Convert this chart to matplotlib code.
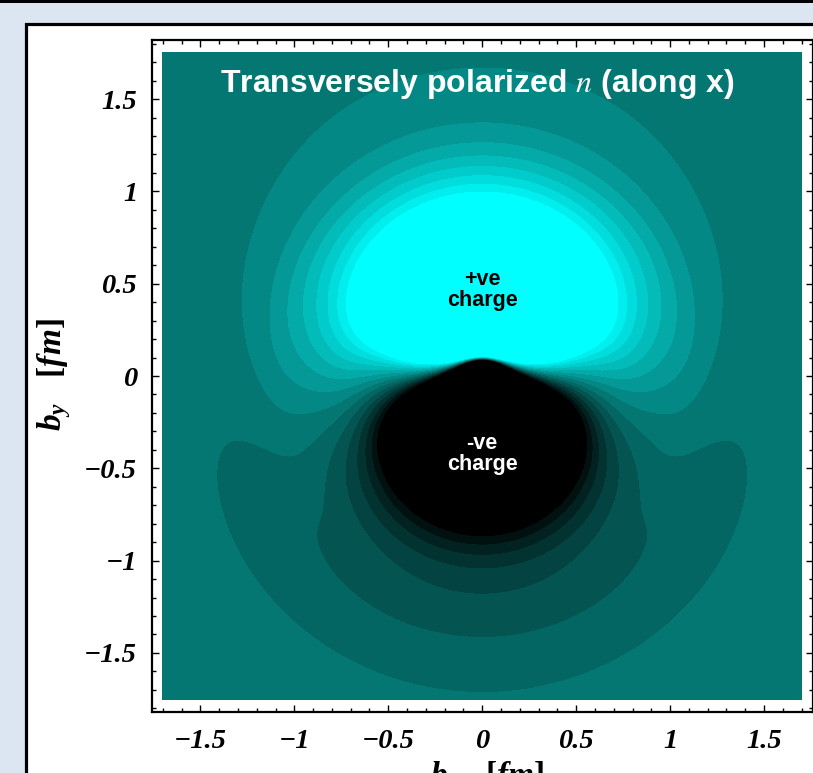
import numpy as np
import matplotlib.pyplot as plt
from matplotlib.patches import Rectangle

plt.rcParams['mathtext.fontset'] = 'custom'
plt.rcParams['mathtext.it'] = 'Liberation Serif:italic:bold'
plt.rcParams['mathtext.rm'] = 'Liberation Serif:bold'
plt.rcParams['mathtext.bf'] = 'Liberation Serif:bold'

# contour levels (density in units of one band) and band colours, black -> teal -> cyan
LEVELS = [-6.5, -5.5, -4.5, -3.5, -2.5, -1.5, -0.5,
          0.5, 1.5, 2.5, 3.5, 4.5, 5.5, 6.5, 7.5]
BAND_COLORS = ['#000000', '#011110', '#012221', '#023331', '#034442', '#045552',
               '#046663', '#057773', '#048885', '#049996', '#03aaa8', '#03bbb9',
               '#02cccb', '#01dddc', '#01eeee', '#00ffff']

X_TICKS = [-1.5, -1.0, -0.5, 0.0, 0.5, 1.0, 1.5]
X_TICK_LABELS = ['\u22121.5', '\u22121', '\u22120.5', '0', '0.5', '1', '1.5']
Y_TICKS = [-1.5, -1.0, -0.5, 0.0, 0.5, 1.0, 1.5]
Y_TICK_LABELS = ['\u22121.5', '\u22121', '\u22120.5', '0', '0.5', '1', '1.5']

# transverse density model: rho = M(b) + sin(phi) * D(b)
DIPOLE_AMP = 460.0     # D(b) = amp * b * K0(mass * b)
DIPOLE_MASS = 3.9
CORE_AMP = 121.0       # negative core, -amp * K0(mass * b)
CORE_MASS = 10.0
RING_AMP = 1.5         # positive ring out to ~1.15 fm
RING_EDGE = 1.15
RING_SOFT = 0.07
BUMP_AMP = 1.3         # extra positive charge around 0.7 fm
BUMP_POS = 0.72
BUMP_WIDTH = 0.24
TAIL_AMP = 0.18        # weak negative tail
TAIL_POS = 1.45
TAIL_WIDTH = 0.2

PLOT_X = (-1.70, 1.70)
PLOT_Y = (-1.755, 1.755)


def bessel_k0(x):
    t = np.linspace(0.0, 12.0, 1500)
    return np.trapezoid(np.exp(-np.outer(x, np.cosh(t))), t, axis=1)


b_tab = np.linspace(1e-3, 2.6, 2500)
dip_tab = DIPOLE_AMP * b_tab * bessel_k0(DIPOLE_MASS * b_tab)
mono_tab = (-CORE_AMP * bessel_k0(CORE_MASS * b_tab)
            + RING_AMP / (1.0 + np.exp((b_tab - RING_EDGE) / RING_SOFT))
            + BUMP_AMP * np.exp(-((b_tab - BUMP_POS) / BUMP_WIDTH) ** 2)
            - TAIL_AMP * np.exp(-((b_tab - TAIL_POS) / TAIL_WIDTH) ** 2))

bx = np.linspace(PLOT_X[0], PLOT_X[1], 1100)
by = np.linspace(PLOT_Y[0], PLOT_Y[1], 1100)
BX, BY = np.meshgrid(bx, by)
B = np.hypot(BX, BY)
sin_phi = BY / np.maximum(B, 1e-9)
rho = np.interp(B, b_tab, mono_tab) + sin_phi * np.interp(B, b_tab, dip_tab)

W, H = 813, 773
fig = plt.figure(figsize=(W / 100, H / 100), dpi=100)
fig.patch.set_facecolor('#dce6f2')

# slide decorations, kept behind the axes
fig.add_artist(Rectangle((0, 1 - 3 / H), 1, 3 / H, transform=fig.transFigure,
                         facecolor='black', edgecolor='none', zorder=-10))
fig.add_artist(Rectangle((25.5 / W, -0.05), 1.0, 1.05 - 24.5 / H,
                         transform=fig.transFigure, facecolor='white',
                         edgecolor='black', linewidth=2.3, zorder=-10))

ax = fig.add_axes([151.7 / W, (H - 712) / H, (812.7 - 151.7) / W, (712 - 40) / H])
ax.set_facecolor('white')
ax.contourf(BX, BY, rho, levels=LEVELS, colors=BAND_COLORS, extend='both')
ax.set_xlim(-1.759, 1.759)
ax.set_ylim(-1.82, 1.82)

ax.set_xticks(X_TICKS)
ax.set_xticklabels(X_TICK_LABELS)
ax.set_yticks(Y_TICKS)
ax.set_yticklabels(Y_TICK_LABELS)
ax.set_xticks(np.arange(-1.7, 1.71, 0.1), minor=True)
ax.set_yticks(np.arange(-1.8, 1.81, 0.1), minor=True)
ax.tick_params(which='both', direction='in', top=True, right=True, width=1.0)
ax.tick_params(which='major', length=5)
ax.tick_params(which='minor', length=3)
ax.tick_params(axis='y', pad=10.5)
ax.tick_params(axis='x', pad=12)
for lab in ax.get_xticklabels() + ax.get_yticklabels():
    lab.set_fontfamily('Liberation Serif')
    lab.set_fontweight('bold')
    lab.set_fontstyle('italic')
    lab.set_fontsize(20.5)
for sp in ax.spines.values():
    sp.set_linewidth(1.6)

ax.text(-0.025, 1.58, r'Transversely polarized $n$ (along x)', color='white',
        fontfamily='Liberation Sans', fontweight='bold', fontsize=23,
        ha='center', va='center', math_fontfamily='stix')
ax.text(0.0, 0.465, '+ve\ncharge', color='black', fontfamily='Liberation Sans',
        fontweight='bold', fontsize=15.5, ha='center', va='center', linespacing=1.0)
ax.text(0.0, -0.42, '-ve\ncharge', color='white', fontfamily='Liberation Sans',
        fontweight='bold', fontsize=15.5, ha='center', va='center', linespacing=1.0)

fig.text(54 / W, 1 - 375 / H, r'$b_y\ \ \ [fm]$', rotation=90, fontsize=24,
         ha='center', va='center')
fig.text(487 / W, 1 - 759 / H, r'$b_x\ \ \ [fm]$', fontsize=24, ha='center', va='top')

fig.savefig('out.png', dpi=100, facecolor=fig.get_facecolor())
